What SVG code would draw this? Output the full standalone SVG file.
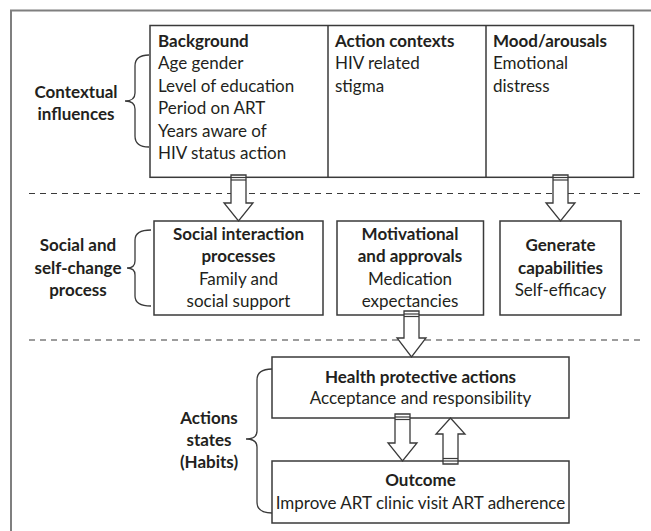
<svg xmlns="http://www.w3.org/2000/svg" width="651" height="531" viewBox="0 0 651 531">
<style>
text{font-family:Lato,"Liberation Sans",sans-serif;font-size:17px;fill:#231f20}
.b{font-weight:bold}
.m{text-anchor:middle}
.box{fill:#fff;stroke:#3a3a3a;stroke-width:1.5}
.dash{stroke:#3a3a3a;stroke-width:1.2;stroke-dasharray:6 5;fill:none}
.arr{fill:#fff;stroke:#3a3a3a;stroke-width:1.3;stroke-linejoin:miter}
.band{stroke:#3a3a3a;stroke-width:1.2}
.brace{fill:none;stroke:#3a3a3a;stroke-width:1.3}
</style>
<rect x="0" y="0" width="651" height="531" fill="#fff"/>
<rect x="11" y="10.5" width="700" height="600" fill="none" stroke="#7f7f7f" stroke-width="2"/>

<g id="separators">
<line class="dash" x1="29" y1="193.5" x2="640" y2="193.5"/>
<line class="dash" x1="29" y1="340" x2="640" y2="340"/>
</g>

<g id="contextual-label">
<text class="b m" x="76" y="98">Contextual</text>
<text class="b m" x="76" y="120">influences</text>
<path class="brace" d="M149,55 Q135,55 135,66 L135,93 Q135,101 125,101 Q135,101 135,109 L135,136 Q135,147 149,147"/>
</g>

<g id="top-box">
<rect class="box" x="150" y="25.5" width="483.5" height="151.8"/>
<line class="box" x1="328" y1="25.5" x2="328" y2="177.3"/>
<line class="box" x1="486" y1="25.5" x2="486" y2="177.3"/>
<text x="158" y="47" class="b">Background</text>
<text x="158" y="69.4">Age gender</text>
<text x="158" y="91.8">Level of education</text>
<text x="158" y="114.2">Period on ART</text>
<text x="158" y="136.6">Years aware of</text>
<text x="158" y="159">HIV status action</text>
<text x="335" y="47" class="b">Action contexts</text>
<text x="335" y="69.4">HIV related</text>
<text x="335" y="91.8">stigma</text>
<text x="493" y="47" class="b">Mood/arousals</text>
<text x="493" y="69.4">Emotional</text>
<text x="493" y="91.8">distress</text>
</g>

<g id="social-label">
<text class="b m" x="78" y="251">Social and</text>
<text class="b m" x="78" y="274">self-change</text>
<text class="b m" x="78" y="296">process</text>
<path class="brace" d="M151,230 Q135,230 135,240 L135,261 Q135,268 127,268 Q135,268 135,275 L135,296 Q135,306 151,306"/>
</g>

<g id="social-box">
<rect class="box" x="154" y="221" width="169" height="94"/>
<text class="b m" x="238.5" y="239.5">Social interaction</text>
<text class="b m" x="238.5" y="262">processes</text>
<text class="m" x="238.5" y="284.5">Family and</text>
<text class="m" x="238.5" y="307">social support</text>
</g>

<g id="motivational-box">
<rect class="box" x="337" y="221" width="146.5" height="94"/>
<text class="b m" x="410" y="239.5">Motivational</text>
<text class="b m" x="410" y="262">and approvals</text>
<text class="m" x="410" y="284.5">Medication</text>
<text class="m" x="410" y="307">expectancies</text>
</g>

<g id="capabilities-box">
<rect class="box" x="500" y="221" width="121" height="94"/>
<text class="b m" x="560.5" y="251">Generate</text>
<text class="b m" x="560.5" y="274">capabilities</text>
<text class="m" x="560.5" y="296">Self-efficacy</text>
</g>

<g id="actions-label">
<text class="b m" x="209" y="424">Actions</text>
<text class="b m" x="209" y="446">states</text>
<text class="b m" x="209" y="468">(Habits)</text>
<path class="brace" d="M272,369 Q257,369 257,380 L257,431 Q257,439 246,439 Q257,439 257,447 L257,502 Q257,513 272,513"/>
</g>

<g id="health-box">
<rect class="box" x="272" y="357" width="297" height="61"/>
<text class="b m" x="420.5" y="383">Health protective actions</text>
<text class="m" x="420.5" y="404">Acceptance and responsibility</text>
</g>

<g id="outcome-box">
<rect class="box" x="272" y="461" width="297" height="62"/>
<text class="b m" x="420.5" y="486">Outcome</text>
<text class="m" x="420.5" y="509">Improve ART clinic visit ART adherence</text>
</g>

<g id="connectors">
<polygon class="arr" points="231,175 246,175 246,203 253,203 238.5,221 224,203 231,203"/>
<line class="band" x1="231" y1="177.5" x2="246" y2="177.5"/>
<line class="band" x1="231" y1="180" x2="246" y2="180"/>

<polygon class="arr" points="553,175 568,175 568,203 575,203 560.5,221 546,203 553,203"/>
<line class="band" x1="553" y1="177.5" x2="568" y2="177.5"/>
<line class="band" x1="553" y1="180" x2="568" y2="180"/>

<polygon class="arr" points="404,311 419,311 419,338 426,338 411.5,357 397,338 404,338"/>
<line class="band" x1="404" y1="314" x2="419" y2="314"/>
<line class="band" x1="404" y1="316.5" x2="419" y2="316.5"/>

<polygon class="arr" points="395,414 410,414 410,443 417,443 402.5,461 388,443 395,443"/>
<line class="band" x1="395" y1="417" x2="410" y2="417"/>
<line class="band" x1="395" y1="419.5" x2="410" y2="419.5"/>

<polygon class="arr" points="443,464 458,464 458,434 465,434 450.5,418 436,434 443,434"/>
<line class="band" x1="443" y1="461" x2="458" y2="461"/>
<line class="band" x1="443" y1="458.5" x2="458" y2="458.5"/>
</g>
</svg>
